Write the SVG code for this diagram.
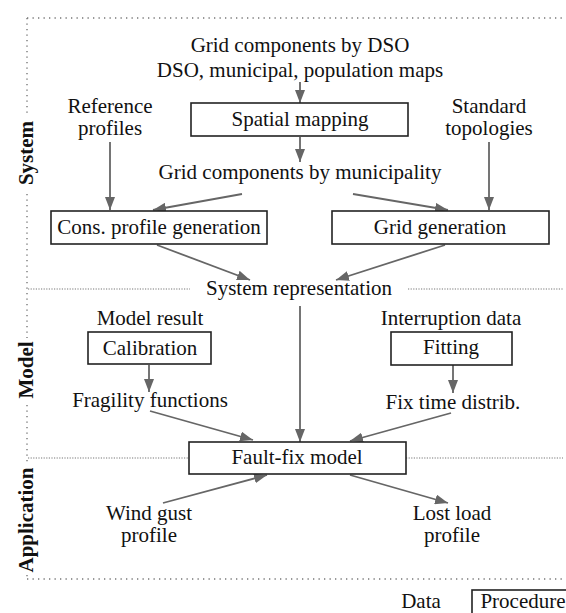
<svg xmlns="http://www.w3.org/2000/svg" width="566" height="613" viewBox="0 0 566 613">
  <defs>
    <marker id="arrow" markerUnits="userSpaceOnUse" markerWidth="13" markerHeight="10" refX="13" refY="5" orient="auto">
      <path d="M0,0 L13,5 L0,10 z" fill="#666"/>
    </marker>
    <style>
      text { font-family: "Liberation Serif", "Times New Roman", Tinos, "DejaVu Serif", serif; font-size: 21px; fill: #111; text-anchor: middle; }
      .section { font-weight: bold; }
      .box { fill: #fff; stroke: #222; stroke-width: 1.6; }
      .frame { stroke: #777; stroke-width: 1.4; stroke-dasharray: 1.3 4.2; fill: none; }
      .divider { stroke: #777; stroke-width: 1.2; stroke-dasharray: 1.2 1.4; fill: none; }
      .conn { stroke: #666; stroke-width: 1.8; fill: none; marker-end: url(#arrow); }
    </style>
  </defs>
  <rect width="566" height="613" fill="#fff"/>

  <!-- section frame and dividers -->
  <g id="frame">
    <line class="frame" x1="27" y1="18" x2="563" y2="18"/>
    <line class="frame" x1="27" y1="579" x2="563" y2="579"/>
    <line class="frame" x1="27" y1="18" x2="27" y2="113"/>
    <line class="frame" x1="27" y1="194" x2="27" y2="338"/>
    <line class="frame" x1="27" y1="405" x2="27" y2="462"/>
    <line class="frame" x1="27" y1="575" x2="27" y2="579"/>
    <line class="divider" x1="28" y1="289" x2="190" y2="289"/>
    <line class="divider" x1="408" y1="289" x2="563" y2="289"/>
    <line class="divider" x1="28" y1="458" x2="189" y2="458"/>
    <line class="divider" x1="406" y1="458" x2="563" y2="458"/>
  </g>

  <!-- section labels -->
  <g id="sections">
    <text class="section" transform="translate(33,153) rotate(-90)">System</text>
    <text class="section" transform="translate(33,370) rotate(-90)">Model</text>
    <text class="section" transform="translate(33,520) rotate(-90)">Application</text>
  </g>

  <!-- connectors -->
  <g id="connectors">
    <line class="conn" x1="300" y1="82" x2="300" y2="103"/>
    <line class="conn" x1="300" y1="137" x2="300" y2="162"/>
    <line class="conn" x1="110" y1="142" x2="110" y2="210"/>
    <line class="conn" x1="489" y1="142" x2="489" y2="210"/>
    <line class="conn" x1="242" y1="194" x2="153" y2="210"/>
    <line class="conn" x1="353" y1="194" x2="448" y2="210"/>
    <line class="conn" x1="157" y1="245" x2="250" y2="280"/>
    <line class="conn" x1="445" y1="245" x2="336" y2="280"/>
    <line class="conn" x1="300" y1="306" x2="300" y2="442"/>
    <line class="conn" x1="149" y1="365" x2="149" y2="392"/>
    <line class="conn" x1="150" y1="411" x2="253" y2="440"/>
    <line class="conn" x1="453" y1="365" x2="453" y2="393"/>
    <line class="conn" x1="451" y1="413" x2="350" y2="441"/>
    <line class="conn" x1="163" y1="503" x2="267" y2="475"/>
    <line class="conn" x1="350" y1="475" x2="448" y2="503"/>
  </g>

  <!-- data items -->
  <g id="grid-components-dso"><text x="300" y="52">Grid components by DSO</text></g>
  <g id="maps"><text x="300" y="77">DSO, municipal, population maps</text></g>
  <g id="reference-profiles"><text x="110" y="113">Reference</text><text x="110" y="135">profiles</text></g>
  <g id="standard-topologies"><text x="489" y="113">Standard</text><text x="489" y="135">topologies</text></g>
  <g id="grid-components-municipality"><text x="300" y="179">Grid components by municipality</text></g>
  <g id="system-representation"><text x="299" y="295">System representation</text></g>
  <g id="model-result"><text x="150" y="325">Model result</text></g>
  <g id="interruption-data"><text x="451" y="325">Interruption data</text></g>
  <g id="fragility-functions"><text x="150" y="407">Fragility functions</text></g>
  <g id="fix-time"><text x="453" y="409">Fix time distrib.</text></g>
  <g id="wind-gust"><text x="149" y="520">Wind gust</text><text x="149" y="542">profile</text></g>
  <g id="lost-load"><text x="452" y="520">Lost load</text><text x="452" y="542">profile</text></g>

  <!-- procedures -->
  <g id="spatial-mapping"><rect class="box" x="191" y="103" width="217" height="33"/><text x="300" y="126">Spatial mapping</text></g>
  <g id="cons-profile"><rect class="box" x="51" y="211" width="216" height="33"/><text x="159" y="234">Cons. profile generation</text></g>
  <g id="grid-generation"><rect class="box" x="332" y="211" width="217" height="33"/><text x="440" y="234">Grid generation</text></g>
  <g id="calibration"><rect class="box" x="88" y="332" width="123" height="32"/><text x="150" y="355">Calibration</text></g>
  <g id="fitting"><rect class="box" x="391" y="332" width="121" height="33"/><text x="451" y="354">Fitting</text></g>
  <g id="fault-fix"><rect class="box" x="189" y="442" width="217" height="32"/><text x="297" y="464">Fault-fix model</text></g>

  <!-- legend -->
  <g id="legend">
    <text x="421" y="608">Data</text>
    <rect class="box" x="472" y="590" width="120" height="40"/>
    <text x="523" y="608">Procedure</text>
  </g>
</svg>
